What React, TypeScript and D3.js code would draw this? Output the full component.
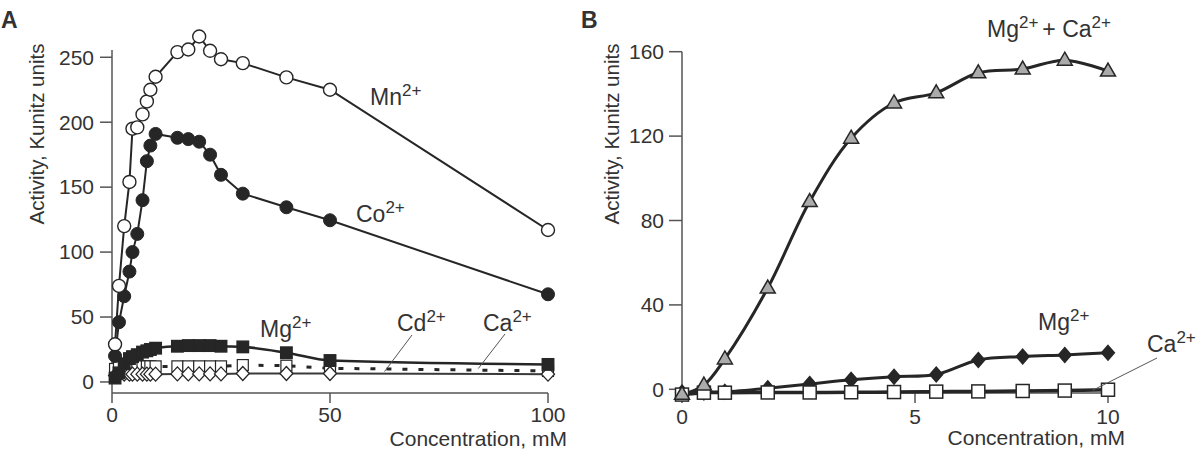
import React from 'react';
import * as d3 from 'd3';

// ---------- Panel A data (concentration, mM) ----------
const concA = [0.7, 1.6, 2.8, 4, 4.7, 5.8, 7, 8, 8.8, 10, 15, 17.5, 20, 22.5, 25, 30, 40, 50, 100];
const mnA = [29, 74, 120, 154, 195, 196, 206, 216, 225, 235, 254, 256, 266, 255, 248.5, 245.5, 234.5, 225, 117];
const coA = [20, 46, 66, 85, 100, 114, 140, 170, 182, 191, 188, 187, 185, 175, 159.5, 145, 134.5, 124.5, 67.5];
const mgA = [3, 7, 14, 18, 19.5, 21, 23, 24, 25, 26, 27.5, 28, 28, 28, 27.5, 27, 22.5, 16.5, 13.5];
const cdA = [10, 11.5, 12, 12, 12, 12, 12, 12, 12, 12, 12, 12, 12, 12, 12, 13, 12.5, 10.5, 8.5];
const caA = [5, 5.5, 6, 6, 6, 6, 6, 6, 6, 6, 6.2, 6.2, 6.2, 6.2, 6.2, 6.5, 6.5, 6.5, 6];

const xTicksA = [0, 50, 100];
const yTicksA = [0, 50, 100, 150, 200, 250];

// ---------- Panel B data ----------
const concB = [0, 0.47, 0.92, 1.84, 2.74, 3.63, 4.55, 5.55, 6.64, 7.79, 8.88, 10];
const mgCaB = [-2.4, 2, 14.4, 48, 89, 119, 135.7, 140.5, 150, 151.8, 156, 150.8];
const mgB = [-1.5, -1.5, -1.2, 0.5, 2.5, 4.5, 6.0, 7.0, 13.9, 15.5, 16.3, 17.3];
const caB = [-2.5, -1.6, -1.6, -1.5, -1.5, -1.4, -1.3, -1.1, -1, -0.8, -0.6, -0.2];

const xTicksB = [0, 5, 10];
const yTicksB = [0, 40, 80, 120, 160];

const FONT = '"Liberation Sans", Arial, Helvetica, sans-serif';
const INK = '#262626';
const TXT = '#333';
const AX = '#555';

type P = [number, number];
const zip = (xs: number[], ys: number[]): P[] => xs.map((x, i) => [x, ys[i]]);

function Ion({ x, y, base, size = 23 }: { x: number; y: number; base: string; size?: number }) {
  return (
    <text x={x} y={y} fontSize={size} fill={TXT} fontFamily={FONT}>
      {base}
      <tspan dy={-9} fontSize={17}>2+</tspan>
    </text>
  );
}

export default function App() {
  const xA = d3.scaleLinear().domain([0, 100]).range([112, 548]);
  const yA = d3.scaleLinear().domain([-8.5, 255.6]).range([393, 50]);
  const xB = d3.scaleLinear().domain([0, 5, 10]).range([682, 915, 1108]);
  const yB = d3.scaleLinear().domain([-1.75, 160]).range([393, 51.7]);

  const lineA = d3.line<P>().x((d) => xA(d[0])).y((d) => yA(d[1]));
  const smoothA = d3.line<P>().x((d) => xA(d[0])).y((d) => yA(d[1])).curve(d3.curveMonotoneX);
  const lineB = d3.line<P>().x((d) => xB(d[0])).y((d) => yB(d[1])).curve(d3.curveCatmullRom.alpha(0.5));

  const mn = zip(concA, mnA);
  const co = zip(concA, coA);
  const mg = zip(concA, mgA);
  const cd = zip(concA, cdA);
  const ca = zip(concA, caA);

  const bMgCa = zip(concB, mgCaB);
  const bMg = zip(concB, mgB);
  const bCa = zip(concB, caB);

  const sq = (cx: number, cy: number, s: number, fill: string, key: string, sw = 1.4) => (
    <rect key={key} x={cx - s / 2} y={cy - s / 2} width={s} height={s} fill={fill} stroke={INK} strokeWidth={sw} />
  );
  const dia = (cx: number, cy: number, w: number, h: number, fill: string, key: string) => (
    <path key={key} d={`M${cx},${cy - h / 2}L${cx + w / 2},${cy}L${cx},${cy + h / 2}L${cx - w / 2},${cy}Z`} fill={fill} stroke={INK} strokeWidth={1.3} />
  );
  const tri = (cx: number, cy: number, key: string) => (
    <path key={key} d={`M${cx},${cy - 8}L${cx + 7.5},${cy + 5}L${cx - 7.5},${cy + 5}Z`} fill="#ababab" stroke={INK} strokeWidth={1.5} />
  );

  return (
    <svg width={1200} height={460} style={{ position: 'absolute', left: 0, top: 0, background: '#fff' }} fontFamily={FONT}>
      <rect width={1200} height={460} fill="#fff" />

      {/* ================= Panel A ================= */}
      <text x={1} y={28} fontSize={23} fontWeight="bold" fill={TXT}>A</text>

      {/* axes */}
      <line x1={xA(0)} x2={xA(0)} y1={yA.range()[1]} y2={yA.range()[0]} stroke={AX} strokeWidth={1.5} />
      {yTicksA.map((t) => (
        <g key={'yta' + t}>
          <line x1={xA(0) - 12} x2={xA(0)} y1={yA(t)} y2={yA(t)} stroke={AX} strokeWidth={1.5} />
          <text x={xA(0) - 18} y={yA(t)} dy="0.35em" textAnchor="end" fontSize={21} fill={TXT}>{t}</text>
        </g>
      ))}
      <line x1={xA(0)} x2={xA(100)} y1={yA.range()[0]} y2={yA.range()[0]} stroke={AX} strokeWidth={1.5} />
      {xTicksA.map((t) => (
        <g key={'xta' + t}>
          <line x1={xA(t)} x2={xA(t)} y1={yA.range()[0]} y2={yA.range()[0] + 10} stroke={AX} strokeWidth={1.5} />
          <text x={xA(t)} y={422} textAnchor="middle" fontSize={21} fill={TXT}>{t}</text>
        </g>
      ))}
      <text x={567} y={446} textAnchor="end" fontSize={21} fill={TXT}>Concentration, mM</text>
      <text transform="translate(44,134) rotate(-90)" textAnchor="middle" fontSize={20.5} fill={TXT}>Activity, Kunitz units</text>

      {/* lines */}
      <path d={lineA(ca) || ''} fill="none" stroke="#3a3a3a" strokeWidth={2} />
      <path d={lineA(cd) || ''} fill="none" stroke={INK} strokeWidth={3} strokeDasharray="5 11" />
      <path d={smoothA(mg) || ''} fill="none" stroke={INK} strokeWidth={2.6} />
      <path d={lineA(co) || ''} fill="none" stroke={INK} strokeWidth={2} />
      <path d={lineA(mn) || ''} fill="none" stroke={INK} strokeWidth={2} />

      {/* markers */}
      {cd.map((d, i) => sq(xA(d[0]), yA(d[1]), 11, '#fff', 'cd' + i, 1.2))}
      {ca.map((d, i) => dia(xA(d[0]), yA(d[1]), 13, 14, '#fff', 'ca' + i))}
      {mg.map((d, i) => sq(xA(d[0]), yA(d[1]), 11.5, INK, 'mg' + i))}
      {co.map((d, i) => (
        <circle key={'co' + i} cx={xA(d[0])} cy={yA(d[1])} r={6.5} fill={INK} stroke={INK} strokeWidth={1} />
      ))}
      {mn.map((d, i) => (
        <circle key={'mn' + i} cx={xA(d[0])} cy={yA(d[1])} r={6.5} fill="#fff" stroke={INK} strokeWidth={1.4} />
      ))}

      {/* labels */}
      <Ion x={370} y={105} base="Mn" />
      <Ion x={356} y={222} base="Co" />
      <Ion x={260} y={337} base="Mg" />
      <Ion x={397} y={331} base="Cd" />
      <Ion x={483} y={331} base="Ca" />
      <line x1={412} y1={335} x2={xA(62.5)} y2={yA(8)} stroke="#555" strokeWidth={1} />
      <line x1={505} y1={334} x2={xA(84)} y2={yA(10.3)} stroke="#555" strokeWidth={1} />

      {/* ================= Panel B ================= */}
      <text x={581} y={28} fontSize={23} fontWeight="bold" fill={TXT}>B</text>

      <line x1={xB(0)} x2={xB(0)} y1={yB.range()[1]} y2={yB.range()[0]} stroke={AX} strokeWidth={1.5} />
      {yTicksB.map((t) => (
        <g key={'ytb' + t}>
          <line x1={xB(0) - 13} x2={xB(0)} y1={yB(t)} y2={yB(t)} stroke={AX} strokeWidth={1.5} />
          <text x={xB(0) - 18} y={yB(t)} dy="0.35em" textAnchor="end" fontSize={21} fill={TXT}>{t}</text>
        </g>
      ))}
      <line x1={xB(0)} x2={xB(10)} y1={yB.range()[0]} y2={yB.range()[0]} stroke={AX} strokeWidth={1.5} />
      {xTicksB.map((t) => (
        <g key={'xtb' + t}>
          <line x1={xB(t)} x2={xB(t)} y1={yB.range()[0]} y2={yB.range()[0] + 10} stroke={AX} strokeWidth={1.5} />
          <text x={xB(t)} y={424} textAnchor="middle" fontSize={21} fill={TXT}>{t}</text>
        </g>
      ))}
      <text x={1125} y={445} textAnchor="end" fontSize={21} fill={TXT}>Concentration, mM</text>
      <text transform="translate(619,134) rotate(-90)" textAnchor="middle" fontSize={20.5} fill={TXT}>Activity, Kunitz units</text>

      <path d={lineB(bCa) || ''} fill="none" stroke={INK} strokeWidth={3.5} />
      <path d={lineB(bMg) || ''} fill="none" stroke={INK} strokeWidth={3} />
      <path d={lineB(bMgCa) || ''} fill="none" stroke={INK} strokeWidth={3} />

      {bMg.map((d, i) => dia(xB(d[0]), yB(d[1]), 13, 15, INK, 'bmg' + i))}
      {bCa.map((d, i) => sq(xB(d[0]), yB(d[1]), 13, '#fff', 'bca' + i, 1.5))}
      {bMgCa.map((d, i) => tri(xB(d[0]), yB(d[1]), 'bt' + i))}

      <text x={987} y={37} fontSize={23} fill={TXT}>
        Mg<tspan dy={-9} fontSize={17}>2+</tspan>
        <tspan dy={9} dx={4}>+ Ca</tspan>
        <tspan dy={-9} fontSize={17}>2+</tspan>
      </text>
      <Ion x={1038} y={330} base="Mg" />
      <Ion x={1147} y={352} base="Ca" />
      <line x1={1157} y1={358} x2={xB(9.6)} y2={yB(-0.5)} stroke="#555" strokeWidth={1} />
    </svg>
  );
}
